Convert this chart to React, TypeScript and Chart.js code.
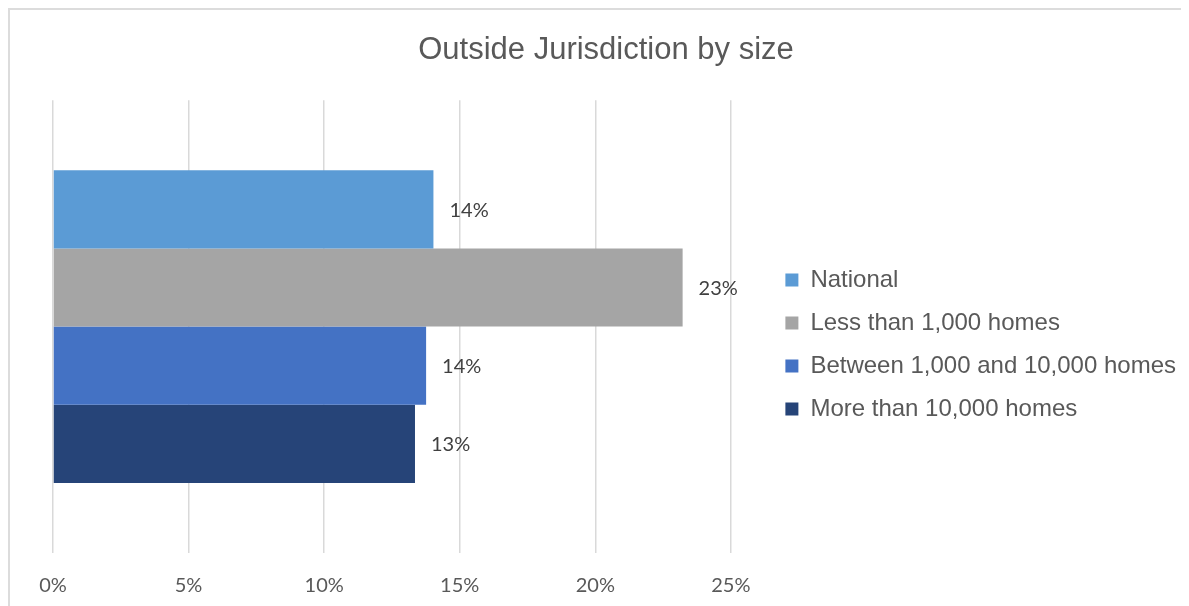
import React, { useEffect, useRef } from 'react';
import { Chart, registerables } from 'chart.js';

Chart.register(...registerables);

const chartTitle = 'Outside Jurisdiction by size';
const categories = [''];
const seriesNames = [
  'National',
  'Less than 1,000 homes',
  'Between 1,000 and 10,000 homes',
  'More than 10,000 homes',
];
const seriesValues = [14.03, 23.22, 13.76, 13.35];
const seriesColors = ['#5B9BD5', '#A5A5A5', '#4472C4', '#264478'];
const xTicks = [0, 5, 10, 15, 20, 25];

const dataLabels = {
  id: 'dataLabels',
  afterDatasetsDraw(chart: any) {
    const ctx = chart.ctx;
    ctx.save();
    ctx.font = '20px Lato';
    ctx.fillStyle = '#404040';
    ctx.textAlign = 'left';
    ctx.textBaseline = 'middle';
    chart.data.datasets.forEach((ds: any, i: number) => {
      const meta = chart.getDatasetMeta(i);
      meta.data.forEach((el: any, j: number) => {
        const v = ds.data[j];
        ctx.fillText(Math.round(v) + '%', el.x + 16, el.y + 1);
      });
    });
    ctx.restore();
  },
};

export default function App() {
  const ref = useRef<HTMLCanvasElement | null>(null);

  useEffect(() => {
    if (!ref.current) return;
    const chart = new Chart(ref.current, {
      type: 'bar',
      data: {
        labels: categories,
        datasets: seriesNames.map((name, i) => ({
          label: name,
          data: [seriesValues[i]],
          backgroundColor: seriesColors[i],
          borderWidth: 0,
          categoryPercentage: 0.691,
          barPercentage: 1,
        })),
      },
      options: {
        indexAxis: 'y',
        responsive: false,
        animation: false,
        layout: { padding: { left: 16, right: 0, top: 0, bottom: 14 } },
        scales: {
          x: {
            type: 'linear',
            min: 0,
            max: 25,
            afterBuildTicks: (s: any) => {
              s.ticks = xTicks.map((v) => ({ value: v }));
            },
            ticks: {
              callback: (v: any) => v + '%',
              color: '#595959',
              font: { family: 'Lato', size: 20 },
              padding: 21,
              maxRotation: 0,
            },
            grid: { color: '#d9d9d9', lineWidth: 1.5, drawTicks: false },
            border: { display: false },
          },
          y: {
            type: 'category',
            position: 'left',
            ticks: { display: false },
            grid: { display: false },
            border: { display: false },
            afterFit: (s: any) => {
              s.width = 27;
            },
          },
          yGap: {
            type: 'linear',
            position: 'right',
            ticks: { display: false },
            grid: { display: false },
            border: { display: false },
            afterFit: (s: any) => {
              s.width = 35.5;
            },
          },
        },
        plugins: {
          title: {
            display: true,
            text: chartTitle,
            color: '#595959',
            font: { family: 'Liberation Sans', size: 31, weight: 'normal' },
            padding: { top: 22, bottom: 31 },
          },
          legend: {
            position: 'right',
            fullSize: false,
            align: 'center',
            maxWidth: 440,
            title: { display: true, text: ' ', font: { size: 10 }, padding: 12 },
            labels: {
              boxWidth: 13,
              boxHeight: 13,
              padding: 19,
              color: '#595959',
              font: { family: 'Liberation Sans', size: 24 },
            },
          },
          tooltip: { enabled: false },
        },
      },
      plugins: [dataLabels],
    } as any);
    return () => chart.destroy();
  }, []);

  return (
    <div
      style={{
        width: 1176,
        height: 623,
        border: '2px solid #dcdcdc',
        background: '#fff',
      }}
    >
      <canvas ref={ref} width={1176} height={623} style={{ display: 'block' }} />
    </div>
  );
}
